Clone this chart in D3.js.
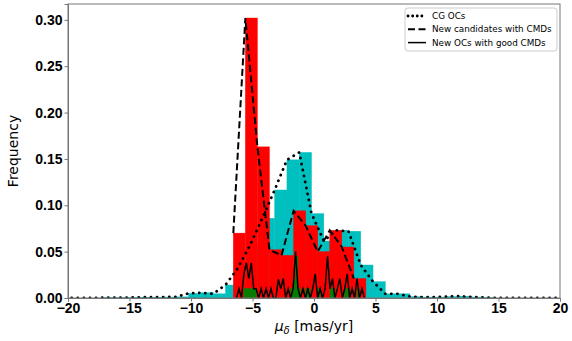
<!DOCTYPE html>
<html>
<head>
<meta charset="utf-8">
<script src="https://cdn.jsdelivr.net/npm/d3@7"></script>
<style>
  body { margin: 0; background: #fff; }
  svg { font-family: "DejaVu Sans", sans-serif; }
  .tick text { font-weight: bold; font-size: 14px; fill: #000; }
  .domain, .tick line { stroke: #777; }
</style>
</head>
<body>
<div id="chart"></div>
<script>
// CG OCs histogram (bin left edges start, width 1.0)
var cgStart = -20.2, cgWidth = 1.0;
var cgFreq = [0, 0, 0, 0.0003, 0.0003, 0.0003, 0.0008, 0.0008, 0.001, 0.0012,
  0.005, 0.0057, 0.0045, 0.014, 0.032, 0.057, 0.086, 0.1165, 0.149, 0.157,
  0.091, 0.0615, 0.073, 0.072, 0.0356, 0.0176, 0.0045, 0.0045, 0.0015, 0.001,
  0.001, 0.0015, 0.002, 0.001, 0.0005, 0, 0, 0, 0, 0, 0, 0];

// new candidates with CMDs
var candStart = -6.56, candWidth = 0.98;
var candFreq = [0.070, 0.302, 0.163, 0.052, 0.046, 0.094, 0.078, 0.050, 0.073, 0.055, 0.021];

// new OCs with good CMDs (fine bins): line and green bars
var goodStart = -6.3, goodWidth = 0.2;
var goodFreq = [0, 0.01, 0, 0.026, 0.038, 0.021, 0.038, 0.01, 0.01, 0, 0.01, 0, 0.01, 0,
  0.01, 0, 0, 0.02, 0.01, 0.021, 0, 0.01, 0, 0.01, 0.05, 0.01, 0, 0.01, 0, 0.01,
  0, 0.01, 0.026, 0, 0.01, 0, 0.01, 0.045, 0.01, 0.021, 0, 0.01, 0.021, 0, 0.01,
  0.026, 0, 0.01, 0, 0.021, 0, 0.01, 0];
var goodBarFreq = [0, 0, 0, 0.01, 0.01, 0.01, 0.01, 0.01, 0, 0, 0, 0, 0, 0,
  0, 0, 0, 0, 0, 0, 0, 0, 0.01, 0.02, 0.045, 0.01, 0, 0, 0.01, 0.01,
  0, 0, 0, 0.01, 0, 0, 0, 0, 0.01, 0.01, 0, 0, 0, 0, 0.01,
  0.01, 0, 0, 0, 0.01, 0, 0, 0];

var xTicks = [-20, -15, -10, -5, 0, 5, 10, 15, 20];
var yTicks = [0, 0.05, 0.10, 0.15, 0.20, 0.25, 0.30];

var width = 572, height = 341;
var margin = {top: 4, right: 12, bottom: 43, left: 68};
var iw = width - margin.left - margin.right,
    ih = height - margin.top - margin.bottom;

var svg = d3.select("#chart").append("svg")
  .attr("width", width)
  .attr("height", height);

svg.append("defs").append("clipPath").attr("id", "clip")
  .append("rect").attr("width", iw).attr("height", ih);

var g = svg.append("g")
  .attr("transform", "translate(" + margin.left + "," + margin.top + ")");

var x = d3.scaleLinear().domain([-20, 20]).range([0, iw]);
var y = d3.scaleLinear().domain([0, 0.302 * 1.05]).range([ih, 0]);

var plot = g.append("g").attr("clip-path", "url(#clip)");

function bars(start, w, vals, color) {
  plot.append("g").selectAll("rect")
    .data(vals).enter()
    .append("rect")
    .attr("x", function(d, i) { return x(start + i * w); })
    .attr("width", function(d, i) { return x(start + (i + 1) * w) - x(start + i * w); })
    .attr("y", function(d) { return y(d); })
    .attr("height", function(d) { return y(0) - y(d); })
    .attr("fill", color)
    .attr("stroke", color)
    .attr("stroke-width", 0.4);
}

bars(cgStart, cgWidth, cgFreq, "#00bfbf");
bars(candStart, candWidth, candFreq, "#ff0000");
bars(goodStart, goodWidth, goodBarFreq, "#008000");

function edgeLine(start, w) {
  return d3.line()
    .x(function(d, i) { return x(start + i * w); })
    .y(function(d) { return y(d); });
}

plot.append("path")
  .datum(cgFreq)
  .attr("d", edgeLine(cgStart, cgWidth))
  .attr("fill", "none")
  .attr("stroke", "#000")
  .attr("stroke-width", 2.8)
  .attr("stroke-linecap", "round")
  .attr("stroke-dasharray", "0.1,6");

plot.append("path")
  .datum(candFreq)
  .attr("d", edgeLine(candStart, candWidth))
  .attr("fill", "none")
  .attr("stroke", "#000")
  .attr("stroke-width", 2)
  .attr("stroke-dasharray", "7,3.5");

plot.append("path")
  .datum(goodFreq)
  .attr("d", edgeLine(goodStart, goodWidth))
  .attr("fill", "none")
  .attr("stroke", "#000")
  .attr("stroke-width", 1.5)
  .attr("stroke-linejoin", "miter");

// axes
var xAxis = d3.axisBottom(x).tickValues(xTicks).tickSize(3.5).tickPadding(2)
  .tickFormat(function(d) { return d < 0 ? "\u2212" + Math.abs(d) : d; });
var yAxis = d3.axisLeft(y).tickValues(yTicks).tickSize(3.5).tickPadding(2)
  .tickFormat(d3.format(".2f"));

g.append("g").attr("transform", "translate(0," + ih + ")").call(xAxis);
g.append("g").call(yAxis);

// frame
g.append("rect")
  .attr("width", iw).attr("height", ih)
  .attr("fill", "none").attr("stroke", "#777").attr("stroke-width", 1);

// axis labels
svg.append("text")
  .attr("transform", "translate(18," + (margin.top + ih / 2) + ") rotate(-90)")
  .attr("text-anchor", "middle")
  .attr("font-size", 14)
  .text("Frequency");

var xl = svg.append("text")
  .attr("x", margin.left + iw / 2)
  .attr("y", 331)
  .attr("text-anchor", "middle")
  .attr("font-size", 14);
xl.append("tspan").attr("font-style", "italic").text("\u03bc");
xl.append("tspan").attr("font-style", "italic").attr("font-size", 10).attr("dy", 3).text("\u03b4");
xl.append("tspan").attr("dy", -3).text(" [mas/yr]");

// legend
var legLabels = ["CG OCs", "New candidates with CMDs", "New OCs with good CMDs"];
var legDash = ["0.1,4.5", "7,3.5", null];
var legW = [2.8, 2, 1.5];
var leg = svg.append("g").attr("transform", "translate(405,8)");
leg.append("rect")
  .attr("width", 152).attr("height", 43)
  .attr("rx", 3)
  .attr("fill", "#fff").attr("fill-opacity", 0.8)
  .attr("stroke", "#ccc");
legLabels.forEach(function(t, i) {
  var ly = 8 + i * 13.3;
  leg.append("line")
    .attr("x1", 3).attr("x2", 21)
    .attr("y1", ly).attr("y2", ly)
    .attr("stroke", "#000")
    .attr("stroke-width", legW[i])
    .attr("stroke-linecap", i === 0 ? "round" : "butt")
    .attr("stroke-dasharray", legDash[i]);
  leg.append("text")
    .attr("x", 27).attr("y", ly + 3)
    .attr("font-size", 8.8)
    .text(t);
});
</script>
</body>
</html>
